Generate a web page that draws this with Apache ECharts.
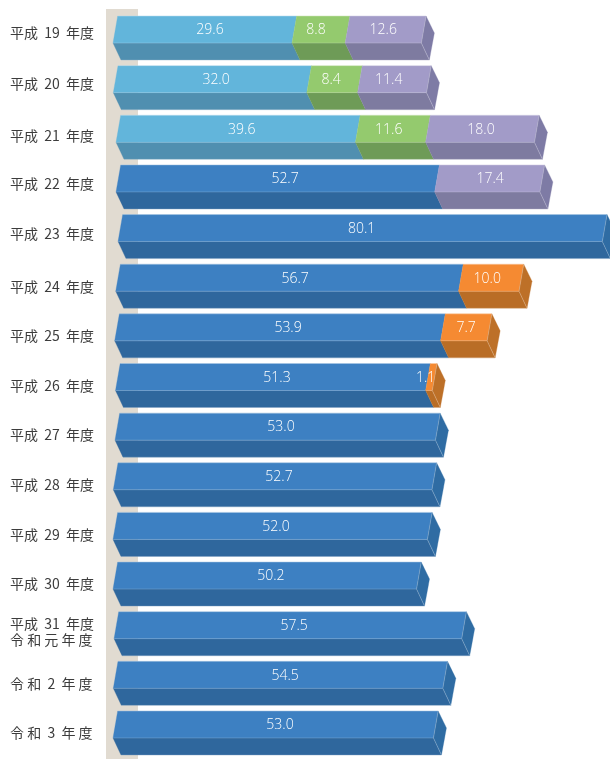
<!DOCTYPE html>
<html><head><meta charset="utf-8">
<style>html,body{margin:0;padding:0;background:#fff}#c{width:610px;height:759px}</style>
<script src="https://cdn.jsdelivr.net/npm/echarts@6/dist/echarts.min.js"></script>
</head><body><div id="c"></div>
<script>
const categories = ['平成  19  年度','平成  20  年度','平成  21  年度','平成  22  年度','平成  23  年度','平成  24  年度','平成  25  年度','平成  26  年度','平成  27  年度','平成  28  年度','平成  29  年度','平成  30  年度','平成  31  年度\n令 和 元 年 度','令 和  2  年 度','令 和  3  年 度'];
const lightBlue = [29.6,32.0,39.6,0,0,0,0,0,0,0,0,0,0,0,0];
const blue      = [0,0,0,52.7,80.1,56.7,53.9,51.3,53.0,52.7,52.0,50.2,57.5,54.5,53.0];
const green     = [8.8,8.4,11.6,0,0,0,0,0,0,0,0,0,0,0,0];
const purple    = [12.6,11.4,18.0,17.4,0,0,0,0,0,0,0,0,0,0,0];
const orange    = [0,0,0,0,0,10.0,7.7,1.1,0,0,0,0,0,0,0];
const rowStart  = [0,0.05,0.5,0.5,0.83,0.45,0.28,0.41,0.33,0.05,0,0,0.17,0.05,0];

const layers = [
  {name:'lightBlue', values:lightBlue, top:'#62B5DB', low:'#508FB0', cap:'#508FB0'},
  {name:'blue',      values:blue,      top:'#3D80C2', low:'#2F679D', cap:'#2F6CA3'},
  {name:'green',     values:green,     top:'#94CA6E', low:'#6E9B57', cap:'#6E9B57'},
  {name:'purple',    values:purple,    top:'#A29BC8', low:'#7E7BA0', cap:'#7E7BA5'},
  {name:'orange',    values:orange,    top:'#F58A32', low:'#B96D26', cap:'#BD7028'}
];
const TOP=22, EDGE=5, BOTTOM=22, SKEW_TOP=4.7, SKEW_LOW=8, TIP=13, TIP_Y=5;
/* layout nudges of the value labels, in px, per layer and row */
const labelNudge = {
  lightBlue:[7.5,6,6],
  blue:[0,0,0,9.7,1.5,8,10.4,6.4,5.8,6.4,5.8,6.2,6.2,7,6.8],
  green:[-2.6,-1,-1.8],
  purple:[0,-3.3,1,2.8],
  orange:[0,0,0,0,0,-1.5,2.2,-3.3]
};
/* the first five axis labels sit a little above their bars: twice the lift, in px */
const labelLift = [10,7,4,6,5];

function seriesData(k){
  return layers[k].values.map(function(v,i){
    let start=rowStart[i];
    for(let j=0;j<k;j++) start+=layers[j].values[i];
    let last=true;
    for(let j=k+1;j<layers.length;j++) if(layers[j].values[i]>0) last=false;
    return [start,i,v,last?1:0];
  });
}
function renderItem(k){
  const L=layers[k];
  return function(params,api){
    const v=api.value(2);
    if(!(v>0)) return null;
    const p0=api.coord([api.value(0),api.value(1)]);
    const p1=api.coord([api.value(0)+v,api.value(1)]);
    const x0=p0[0],x1=p1[0],cy=p0[1];
    const t=cy-TOP,e=cy+EDGE,b=cy+BOTTOM;
    const poly=function(pts,fill){return {type:'polygon',shape:{points:pts},style:{fill:fill,stroke:fill,lineWidth:0.3}};};
    const line=function(pts,op){return {type:'polyline',shape:{points:pts},style:{fill:null,stroke:'#fff',opacity:op,lineWidth:0.8},silent:true};};
    const ch=[
      poly([[x0,e],[x1,e],[x1+SKEW_LOW,b],[x0+SKEW_LOW,b]],L.low),
      poly([[x0+SKEW_TOP,t],[x1+SKEW_TOP,t],[x1,e],[x0,e]],L.top),
      line([[x0+SKEW_TOP,t],[x1+SKEW_TOP,t]],0.35),
      line([[x0,e],[x1,e]],0.22),
      line([[x0+SKEW_LOW,b],[x1+SKEW_LOW,b]],0.2)
    ];
    if(api.value(3)){
      ch.push(poly([[x1+SKEW_TOP,t],[x1+TIP,cy-TIP_Y],[x1+SKEW_LOW,b],[x1,e]],L.cap));
      ch.push(line([[x1+SKEW_TOP,t],[x1,e],[x1+SKEW_LOW,b]],0.3));
    }
    const nudge=labelNudge[L.name][api.value(1)]||0;
    ch.push({type:'text',z2:10,x:(x0+x1)/2+nudge,y:cy-7.7,style:{text:v.toFixed(1),fill:'#fff',font:'300 14px "Open Sans"',align:'center',verticalAlign:'middle'}});
    return {type:'group',children:ch};
  };
}
const axisFont={fontSize:14,fontFamily:'"Noto Sans CJK JP"',color:'#3c3c3c'};
const chart=echarts.init(document.getElementById('c'),null,{renderer:'canvas'});
chart.setOption({
  animation:false,
  backgroundColor:'#fff',
  graphic:[{type:'rect',z:-1,shape:{x:106,y:9,width:32,height:750},style:{fill:'#E1DBD1'}}],
  grid:{left:113,top:13.2,width:497,height:744.6,containLabel:false,outerBoundsMode:'none'},
  xAxis:{type:'value',min:0,max:82.2,show:false},
  yAxis:{type:'category',inverse:true,
    data:categories.map(function(c,i){
      return labelLift[i]?{value:c,textStyle:{align:'left',verticalAlign:'bottom',lineHeight:labelLift[i]}}:c;}),
    axisLine:{show:false},axisTick:{show:false},
    axisLabel:Object.assign({interval:0,margin:103,align:'left',lineHeight:17,
      formatter:function(v){
        const p=v.split('\n');
        return p.length>1?'{a|'+p[0]+'}\n{b|'+p[1]+'}':v;
      },
      rich:{a:Object.assign({lineHeight:18},axisFont),b:Object.assign({lineHeight:19.4,verticalAlign:'top'},axisFont)}
    },axisFont)},
  series:layers.map(function(L,k){return {
    type:'custom',name:L.name,renderItem:renderItem(k),clip:false,z:2+k,
    encode:{x:0,y:1},data:seriesData(k)};})
});
</script></body></html>
